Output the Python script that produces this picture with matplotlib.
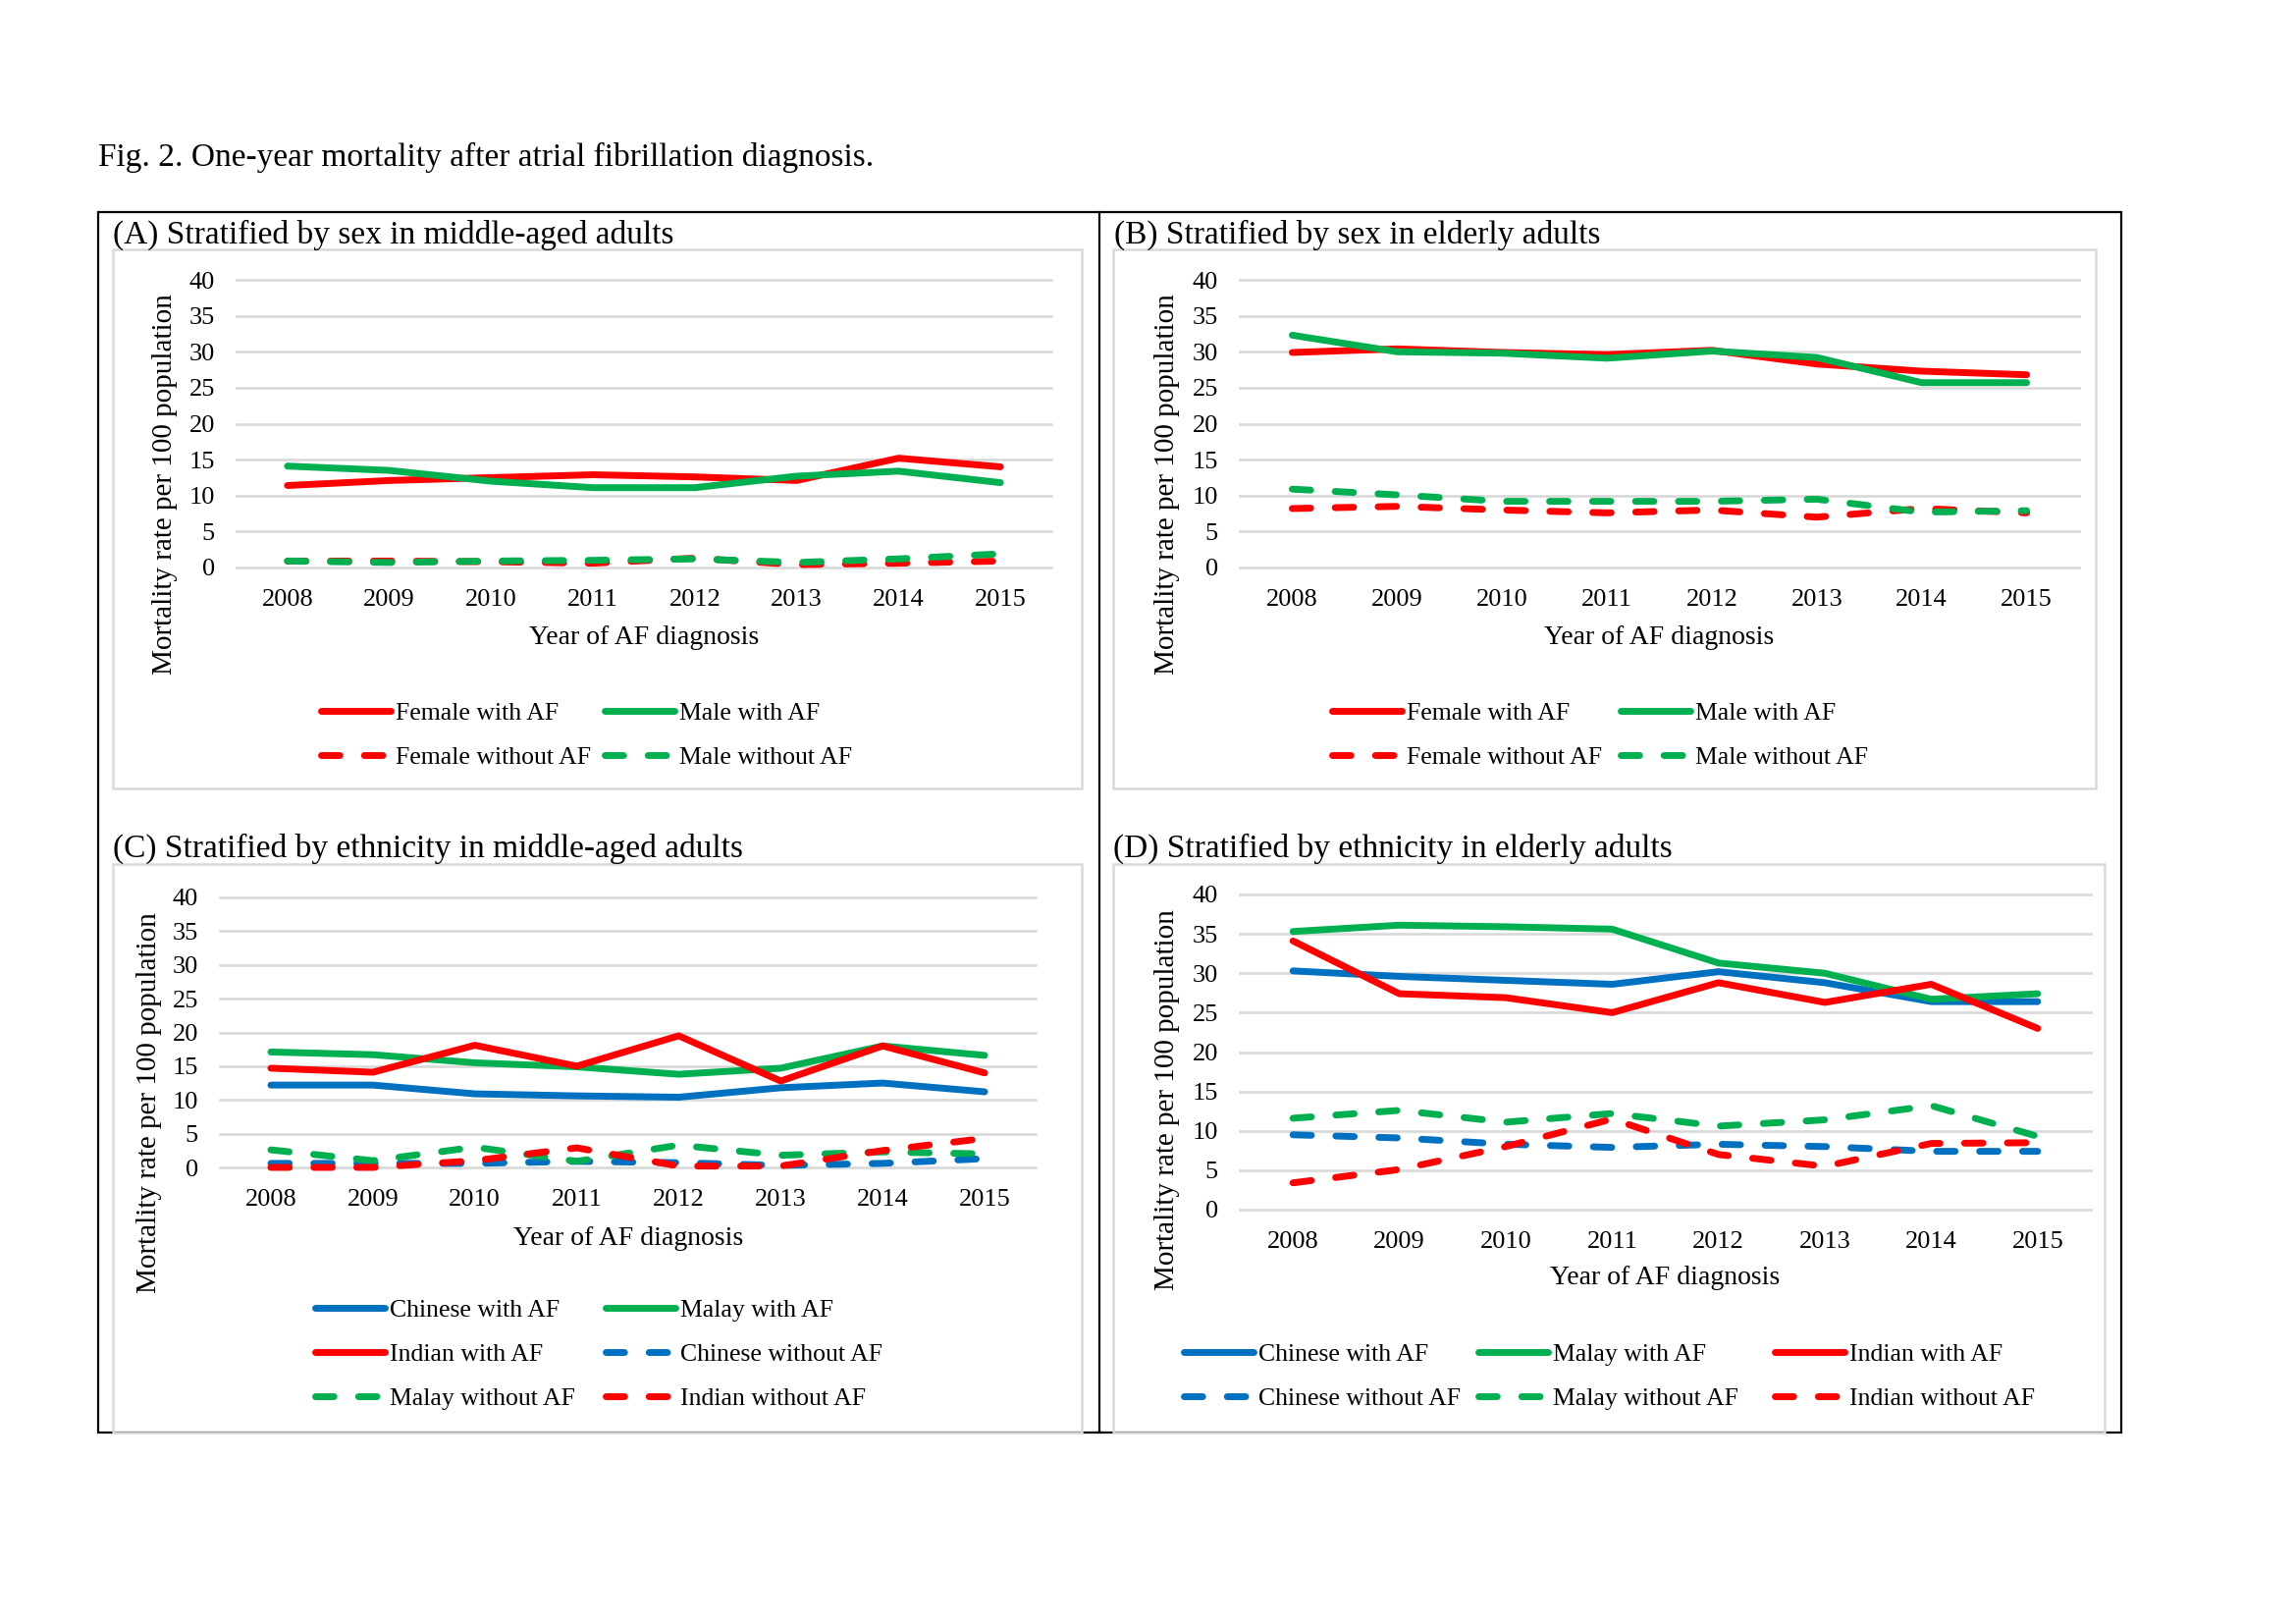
import matplotlib
matplotlib.use("Agg")
import matplotlib.pyplot as plt
from matplotlib.patches import Rectangle
from matplotlib.lines import Line2D

plt.rcParams['font.family'] = ['Liberation Serif', 'DejaVu Serif']

years = ['2008', '2009', '2010', '2011', '2012', '2013', '2014', '2015']
yticks = [0, 5, 10, 15, 20, 25, 30, 35, 40]

# (A) sex, middle-aged
a_female_af = [11.4, 12.1, 12.5, 12.9, 12.6, 12.1, 15.2, 14.0]
a_male_af = [14.1, 13.5, 12.0, 11.1, 11.1, 12.7, 13.4, 11.8]
a_female_noaf = [0.9, 0.9, 0.8, 0.6, 1.3, 0.4, 0.6, 0.9]
a_male_noaf = [0.9, 0.7, 0.9, 1.0, 1.2, 0.7, 1.2, 1.9]

# (B) sex, elderly
b_female_af = [29.9, 30.4, 29.9, 29.6, 30.2, 28.3, 27.3, 26.8]
b_male_af = [32.3, 30.0, 29.8, 29.1, 30.1, 29.2, 25.7, 25.7]
b_female_noaf = [8.2, 8.5, 8.0, 7.6, 8.0, 7.0, 8.2, 7.6]
b_male_noaf = [10.9, 10.1, 9.2, 9.2, 9.2, 9.5, 7.7, 7.9]

# (C) ethnicity, middle-aged
c_chinese_af = [12.2, 12.2, 10.9, 10.6, 10.4, 11.8, 12.5, 11.2]
c_malay_af = [17.1, 16.7, 15.5, 14.9, 13.8, 14.7, 18.0, 16.6]
c_indian_af = [14.7, 14.1, 18.1, 15.0, 19.5, 12.8, 18.0, 14.0]
c_chinese_noaf = [0.6, 0.6, 0.6, 0.9, 0.7, 0.3, 0.6, 1.3]
c_malay_noaf = [2.6, 1.0, 3.0, 0.9, 3.3, 1.8, 2.3, 2.0]
c_indian_noaf = [0.0, 0.0, 1.0, 2.9, 0.2, 0.2, 2.5, 4.3]

# (D) ethnicity, elderly
d_chinese_af = [30.3, 29.6, 29.1, 28.6, 30.2, 28.8, 26.4, 26.4]
d_malay_af = [35.3, 36.1, 35.9, 35.6, 31.3, 30.0, 26.7, 27.4]
d_indian_af = [34.1, 27.4, 26.9, 25.0, 28.8, 26.3, 28.6, 23.0]
d_chinese_noaf = [9.5, 9.1, 8.3, 7.9, 8.3, 8.0, 7.4, 7.4]
d_malay_noaf = [11.6, 12.6, 11.1, 12.2, 10.6, 11.4, 13.2, 9.3]
d_indian_noaf = [3.4, 5.1, 8.0, 11.5, 7.0, 5.5, 8.4, 8.5]

RED = '#FF0000'
GREEN = '#00B050'
BLUE = '#0070C0'
GRID = '#D9D9D9'

W, H = 2339, 1653
fig = plt.figure(figsize=(W / 100, H / 100), dpi=100)


def fx(x):
    return x / W


def fy(y):
    return 1 - y / H


def make_axes(x0, x1, ytop, ybot):
    return fig.add_axes([fx(x0), fy(ybot), (x1 - x0) / W, (ybot - ytop) / H])


def style_axes(ax):
    ax.set_xlim(-0.5, len(years) - 0.5)
    ax.set_ylim(0, 40)
    ax.set_xticks(range(len(years)))
    ax.set_xticklabels(years)
    ax.set_yticks(yticks)
    ax.tick_params(length=0, pad=16, labelsize=19)
    for s in ax.spines.values():
        s.set_visible(False)
    for v in yticks:
        ax.axhline(v, color=GRID, lw=1.9, zorder=0, clip_on=False)


def draw(ax, series):
    handles = {}
    for label, vals, color, dashed in series:
        kw = dict(color=color, lw=5, clip_on=False, solid_capstyle='round',
                  solid_joinstyle='round', dash_capstyle='round')
        if dashed:
            kw['dashes'] = (2.7, 3.6)
        ln, = ax.plot(range(len(years)), vals, label=label, **kw)
        handles[label] = ln
    return handles


def legend(ax, handles, columns, xs, y):
    # one legend per column so columns sit at equal spacing, as in the source
    for i, (col, x) in enumerate(zip(columns, xs)):
        leg = ax.legend([handles[k] for k in col], col, loc='upper left',
                        bbox_to_anchor=(fx(x), fy(y)), bbox_transform=fig.transFigure,
                        frameon=False, fontsize=18.5, handlelength=2.75,
                        handletextpad=0.2, labelspacing=0.86, borderpad=0,
                        borderaxespad=0)
        if i < len(columns) - 1:
            ax.add_artist(leg)


# frames
fig.add_artist(Rectangle((fx(100), fy(1459)), (2161 - 100) / W, (1459 - 216) / H,
                         transform=fig.transFigure, fill=False, ec='black', lw=1.6))
fig.add_artist(Line2D([fx(1120), fx(1120)], [fy(216), fy(1459)],
                      transform=fig.transFigure, color='black', lw=1.6))
for (x0, y0, x1, y1) in [(115, 254, 1102, 803), (1134, 254, 2135, 803),
                         (115, 880, 1102, 1459), (1134, 880, 2144, 1459)]:
    fig.add_artist(Rectangle((fx(x0), fy(y1)), (x1 - x0) / W, (y1 - y0) / H,
                             transform=fig.transFigure, fill=False, ec=GRID, lw=1.8))

fig.text(fx(100), fy(160), 'Fig. 2. One-year mortality after atrial fibrillation diagnosis.',
         fontsize=24, ha='left', va='center')

YLAB = 'Mortality rate per 100 population'
XLAB = 'Year of AF diagnosis'

# Panel A
axA = make_axes(241, 1071, 285, 578)
style_axes(axA)
hA = draw(axA, [('Female with AF', a_female_af, RED, False),
                ('Male with AF', a_male_af, GREEN, False),
                ('Female without AF', a_female_noaf, RED, True),
                ('Male without AF', a_male_noaf, GREEN, True)])
legend(axA, hA, [['Female with AF', 'Female without AF'], ['Male with AF', 'Male without AF']],
       [327, 616], 715)
fig.text(fx(115), fy(239), '(A) Stratified by sex in middle-aged adults', fontsize=24,
         ha='left', va='center')
fig.text(fx(168), fy(493), YLAB, fontsize=21, rotation=90, ha='center', va='center')
fig.text(fx(656), fy(650), XLAB, fontsize=20, ha='center', va='center')

# Panel B
axB = make_axes(1263, 2118, 285, 578)
style_axes(axB)
hB = draw(axB, [('Female with AF', b_female_af, RED, False),
                ('Male with AF', b_male_af, GREEN, False),
                ('Female without AF', b_female_noaf, RED, True),
                ('Male without AF', b_male_noaf, GREEN, True)])
legend(axB, hB, [['Female with AF', 'Female without AF'], ['Male with AF', 'Male without AF']],
       [1357, 1651], 715)
fig.text(fx(1135), fy(239), '(B) Stratified by sex in elderly adults', fontsize=24,
         ha='left', va='center')
fig.text(fx(1189), fy(493), YLAB, fontsize=21, rotation=90, ha='center', va='center')
fig.text(fx(1690), fy(650), XLAB, fontsize=20, ha='center', va='center')

# Panel C
axC = make_axes(224, 1055, 914, 1189)
style_axes(axC)
hC = draw(axC, [('Chinese with AF', c_chinese_af, BLUE, False),
                ('Malay with AF', c_malay_af, GREEN, False),
                ('Indian with AF', c_indian_af, RED, False),
                ('Chinese without AF', c_chinese_noaf, BLUE, True),
                ('Malay without AF', c_malay_noaf, GREEN, True),
                ('Indian without AF', c_indian_noaf, RED, True)])
legend(axC, hC, [['Chinese with AF', 'Indian with AF', 'Malay without AF'],
                 ['Malay with AF', 'Chinese without AF', 'Indian without AF']],
       [321, 617], 1323)
fig.text(fx(115), fy(864), '(C) Stratified by ethnicity in middle-aged adults', fontsize=24,
         ha='left', va='center')
fig.text(fx(152), fy(1123), YLAB, fontsize=21, rotation=90, ha='center', va='center')
fig.text(fx(640), fy(1262), XLAB, fontsize=20, ha='center', va='center')

# Panel D
axD = make_axes(1263, 2130, 911, 1232)
style_axes(axD)
hD = draw(axD, [('Chinese with AF', d_chinese_af, BLUE, False),
                ('Malay with AF', d_malay_af, GREEN, False),
                ('Indian with AF', d_indian_af, RED, False),
                ('Chinese without AF', d_chinese_noaf, BLUE, True),
                ('Malay without AF', d_malay_noaf, GREEN, True),
                ('Indian without AF', d_indian_noaf, RED, True)])
legend(axD, hD, [['Chinese with AF', 'Chinese without AF'],
                 ['Malay with AF', 'Malay without AF'],
                 ['Indian with AF', 'Indian without AF']],
       [1206, 1506, 1808], 1368)
fig.text(fx(1134), fy(864), '(D) Stratified by ethnicity in elderly adults', fontsize=24,
         ha='left', va='center')
fig.text(fx(1189), fy(1120), YLAB, fontsize=21, rotation=90, ha='center', va='center')
fig.text(fx(1696), fy(1302), XLAB, fontsize=20, ha='center', va='center')

fig.savefig('out.png', dpi=100)
